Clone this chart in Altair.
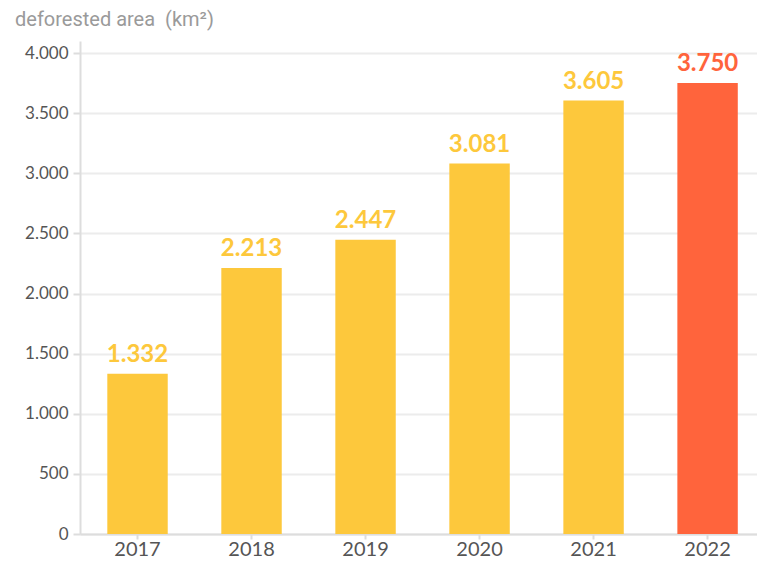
import altair as alt
import pandas as pd

years = ["2017", "2018", "2019", "2020", "2021", "2022"]
values = [1332, 2213, 2447, 3081, 3605, 3750]
groups = ["past", "past", "past", "past", "past", "current"]
y_ticks = [0, 500, 1000, 1500, 2000, 2500, 3000, 3500, 4000]

df = pd.DataFrame({"year": years, "value": values, "group": groups})

color_scale = alt.Scale(domain=["past", "current"], range=["#FDC83C", "#FF643C"])

base = alt.Chart(df).encode(
    x=alt.X("year:N", sort=years,
            scale=alt.Scale(paddingInner=0.47, paddingOuter=0.204, align=0.587),
            axis=alt.Axis(title=None, labelAngle=0, labelFontSize=20, labelColor="#555555",
                          labelFont="Lato", labelPadding=0, tickSize=5, tickColor="#dddddd",
                          tickWidth=2, domainColor="#dddddd", domainWidth=2, grid=False)),
)

bars = base.mark_bar().encode(
    y=alt.Y("value:Q", scale=alt.Scale(domain=[0, 4100], nice=False),
            axis=alt.Axis(title=None, values=y_ticks,
                          labelExpr="replace(format(datum.value, ','), ',', '.')",
                          labelFontSize=17, labelColor="#555555", labelFont="Lato",
                          tickSize=7, tickColor="#dddddd", tickWidth=2,
                          domainColor="#dddddd", domainWidth=2,
                          gridColor="#ececec", gridWidth=2, labelPadding=5)),
    color=alt.Color("group:N", scale=color_scale, legend=None),
)

labels = base.mark_text(baseline="bottom", dy=-7, fontSize=24, fontWeight="bold", font="Lato").transform_calculate(
    lab="replace(format(datum.value, ','), ',', '.')"
).encode(
    y=alt.Y("value:Q"),
    text="lab:N",
    color=alt.Color("group:N", scale=color_scale, legend=None),
)

chart = alt.layer(bars, labels).properties(
    width=677, height=493,
    autosize="none",
    padding={"left": 72, "top": 33, "right": 0, "bottom": 25},
    title=alt.Title("deforested area\u00a0 (km²)", anchor="start", frame="group", dx=-65,
                    fontSize=20, color="#9a9a9a", fontWeight="normal", font="Roboto", offset=11),
).configure_view(stroke=None)

chart.save("out.html", embed_options={"renderer": "svg", "actions": False})
